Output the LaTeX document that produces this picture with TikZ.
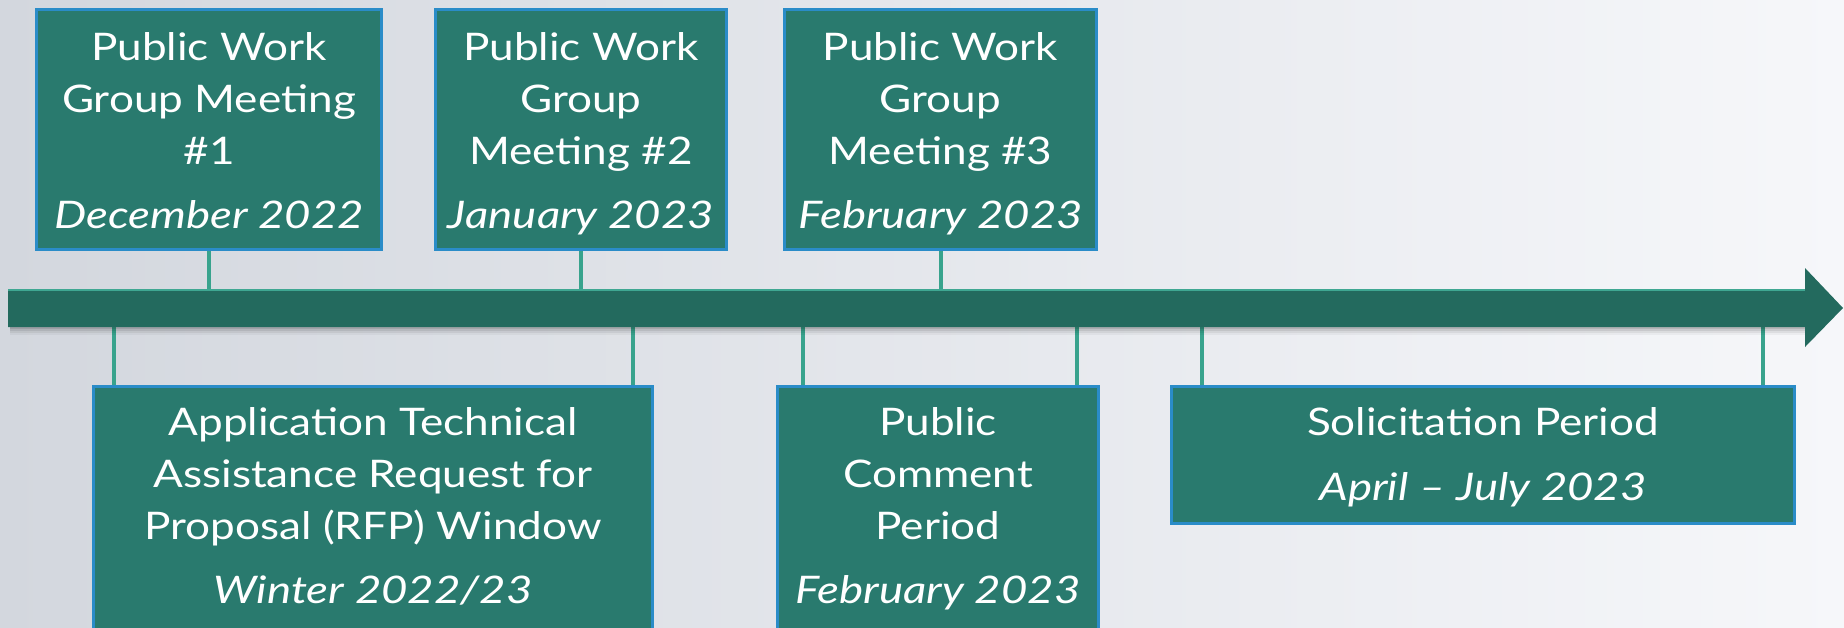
\documentclass[tikz,border=0pt]{standalone}
\usepackage{fontspec}
\setmainfont{Lato}[FakeStretch=1.16, ItalicFeatures={FakeStretch=1.2}]
\definecolor{boxfill}{HTML}{297A6E}
\definecolor{boxline}{HTML}{2A8CC8}
\definecolor{barfill}{HTML}{236A5E}
\definecolor{barhi}{HTML}{3FA792}
\definecolor{connc}{HTML}{38A38D}
\definecolor{bgleft}{HTML}{D3D7DE}
\definecolor{bgmid}{HTML}{EEF2F7}
\definecolor{bgright}{HTML}{F6F7FA}
\begin{document}
\begin{tikzpicture}[x=1pt,y=-1pt,
  box/.style={draw=boxline, line width=3pt, fill=boxfill, text=white, align=center,
    inner xsep=0pt, inner ysep=0pt, anchor=north, font=\fontsize{38}{52}\selectfont},
  conn/.style={draw=connc, line width=4pt}]
\useasboundingbox (0,0) rectangle (1844,627);
\clip (0,0) rectangle (1844,627);
\shade[left color=bgleft, middle color=bgmid, right color=bgright] (0,0) rectangle (1844,627);

% bar reference coordinates
\coordinate (bartop) at (0,291);
\coordinate (a1) at (114,326);
\coordinate (a2) at (633,326);
\coordinate (b1) at (803,326);
\coordinate (b2) at (1077,326);
\coordinate (c1) at (1202,326);
\coordinate (c2) at (1763,326);

% boxes
\node[box, minimum width=345pt] (t1) at (209,7.5)
  {\rule{0pt}{51.5pt}Public Work\\Group Meeting\\\#1\\[12pt]\textit{December 2022}\rule[-20.5pt]{0pt}{0pt}};
\node[box, minimum width=291pt] (t2) at (581,7.5)
  {\rule{0pt}{51.5pt}Public Work\\Group\\Meeting \#2\\[12pt]\textit{January 2023}\rule[-20.5pt]{0pt}{0pt}};
\node[box, minimum width=312pt] (t3) at (940.5,7.5)
  {\rule{0pt}{51.5pt}Public Work\\Group\\Meeting \#3\\[12pt]\textit{February 2023}\rule[-20.5pt]{0pt}{0pt}};
\node[box, minimum width=559pt] (bA) at (373,384.5)
  {\rule{0pt}{49.5pt}Application Technical\\Assistance Request for\\Proposal (RFP) Window\\[12pt]\textit{Winter 2022/23}\rule[-58pt]{0pt}{0pt}};
\node[box, minimum width=321pt] (bB) at (938,384.5)
  {\rule{0pt}{49.5pt}Public\\Comment\\Period\\[12pt]\textit{February 2023}\rule[-58pt]{0pt}{0pt}};
\node[box, minimum width=623pt] (bC) at (1483,384.5)
  {\rule{0pt}{49.5pt}Solicitation Period\\[13pt]\textit{April – July 2023}\rule[-22.5pt]{0pt}{0pt}};

% connectors
\draw[conn] (t1.south) -- (t1.south |- bartop);
\draw[conn] (t2.south) -- (t2.south |- bartop);
\draw[conn] (t3.south) -- (t3.south |- bartop);
\draw[conn] (a1) -- (a1 |- bA.north);
\draw[conn] (a2) -- (a2 |- bA.north);
\draw[conn] (b1) -- (b1 |- bB.north);
\draw[conn] (b2) -- (b2 |- bB.north);
\draw[conn] (c1) -- (c1 |- bC.north);
\draw[conn] (c2) -- (c2 |- bC.north);

% bar shadow
\foreach \d/\o in {2/0.10,4/0.08,6/0.06,8/0.04}{
  \fill[black, opacity=\o] (10,327) rectangle (1805,327+\d);
}
% timeline arrow
\fill[barfill] (8,289) -- (1805,289) -- (1805,268) -- (1843,308) -- (1805,347) -- (1805,327) -- (8,327) -- cycle;
\draw[barhi, line width=2.5pt] (8,290.2) -- (1805,290.2);
\end{tikzpicture}
\end{document}
